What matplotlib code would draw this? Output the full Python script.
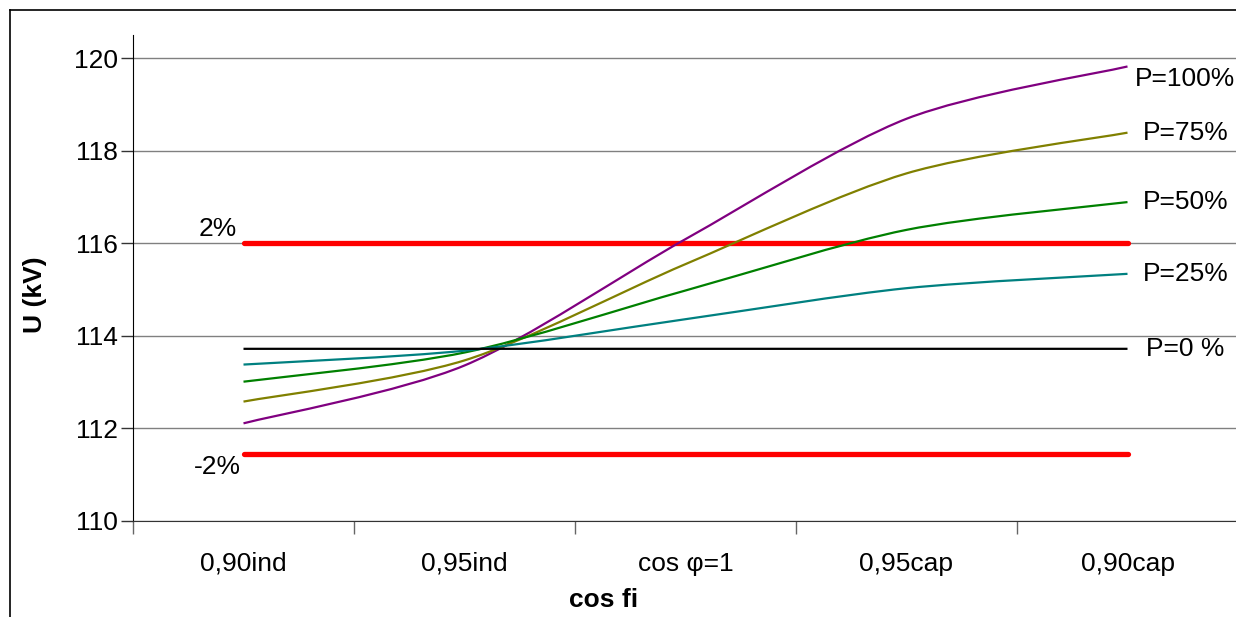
import numpy as np
import matplotlib
matplotlib.use("Agg")
import matplotlib.pyplot as plt
from matplotlib.path import Path
from matplotlib.patches import PathPatch
from matplotlib.lines import Line2D

plt.rcParams["font.family"] = ["Liberation Sans", "DejaVu Sans"]

# ---- data -----------------------------------------------------------------------------------
CATS = ["0,90ind", "0,95ind", "cos φ=1", "0,95cap", "0,90cap"]
P100 = [112.11, 113.36, 116.09, 118.69, 119.82]
P75  = [112.58, 113.47, 115.55, 117.51, 118.39]
P50  = [113.01, 113.64, 114.98, 116.29, 116.89]
P25  = [113.38, 113.68, 114.36, 115.03, 115.34]
P0   = [113.72, 113.72, 113.72, 113.72, 113.72]
UPPER = [116.0] * 5     # +2 %
LOWER = [111.44] * 5    # -2 %
SERIES = [("P=100%", P100, "#800080"), ("P=75%", P75, "#808000"),
          ("P=50%", P50, "#008000"), ("P=25%", P25, "#008080"),
          ("P=0 %", P0, "#000000")]


def smooth_path(ys, k=1 / 7.0):
    """Excel-like smoothed line: cubic Bezier through each point (Catmull-Rom style)."""
    xs = np.arange(len(ys), dtype=float)
    pts = np.column_stack([xs, ys])
    n = len(pts)
    verts, codes = [pts[0]], [Path.MOVETO]
    for i in range(n - 1):
        p_prev = pts[max(i - 1, 0)]
        p0, p1 = pts[i], pts[i + 1]
        p_next = pts[min(i + 2, n - 1)]
        c1 = p0 + (p1 - p_prev) * k
        c2 = p1 - (p_next - p0) * k
        verts += [c1, c2, p1]
        codes += [Path.CURVE4] * 3
    return Path(verts, codes)


W, H = 1236, 617
FS = 19
fig = plt.figure(figsize=(W / 100, H / 100), dpi=100)
ax = fig.add_axes([133 / W, (H - 521) / H, (1238 - 133) / W, (521 - 35) / H])

ax.set_xlim(-0.5, len(CATS) - 0.5)
ax.set_ylim(110, 120.5)

# gridlines
ax.set_yticks(np.arange(110, 121, 2))
ax.yaxis.grid(True, color="#808080", lw=1.0)
ax.set_axisbelow(True)

# limit lines
x = np.arange(len(CATS))
ax.plot(x, UPPER, color="#FF0000", lw=3.8, solid_capstyle="round", zorder=3)
ax.plot(x, LOWER, color="#FF0000", lw=3.8, solid_capstyle="round", zorder=3)
ax.text(-0.03, UPPER[0] + 0.06, "2%", ha="right", va="bottom", fontsize=FS)
ax.text(-0.01, LOWER[0] - 0.02, "-2%", ha="right", va="top", fontsize=FS)

for name, ys, col in SERIES:
    ax.add_patch(PathPatch(smooth_path(ys), fill=False, edgecolor=col, lw=1.6, zorder=4))
    ly = ys[-1] - 0.28 if ys[-1] > 119.5 else ys[-1]
    ax.text(len(CATS) - 1 + 0.262, ly, name, ha="center", va="center", fontsize=FS)

# axes styling
for s in ["top", "right"]:
    ax.spines[s].set_visible(False)
ax.spines["left"].set_color("#000000")
ax.spines["bottom"].set_color("#333333")
ax.tick_params(axis="y", length=9, width=1, color="#333333", labelsize=FS, pad=2)
ax.set_xticks(np.arange(-0.5, len(CATS), 1.0))
ax.set_xticklabels([])
ax.tick_params(axis="x", which="major", length=9, width=1, color="#666666")
ax.set_xticks(x, minor=True)
ax.set_xticklabels(CATS, minor=True, fontsize=FS)
ax.tick_params(axis="x", which="minor", length=0, pad=22)

fig.text(35 / W, 1 - 295 / H, "U (kV)", rotation=90, ha="center", va="center",
         fontsize=FS, fontweight="bold")
fig.text(604 / W, 1 - 600 / H, "cos fi", ha="center", va="center",
         fontsize=FS, fontweight="bold")

# chart frame (only left and top edges are inside the picture)
fig.add_artist(Line2D([10 / W, 10 / W], [0, 1 - 10 / H], color="#000000", lw=1.2))
fig.add_artist(Line2D([10 / W, 1], [1 - 10 / H, 1 - 10 / H], color="#000000", lw=1.2))

fig.savefig("out.png", dpi=100)
